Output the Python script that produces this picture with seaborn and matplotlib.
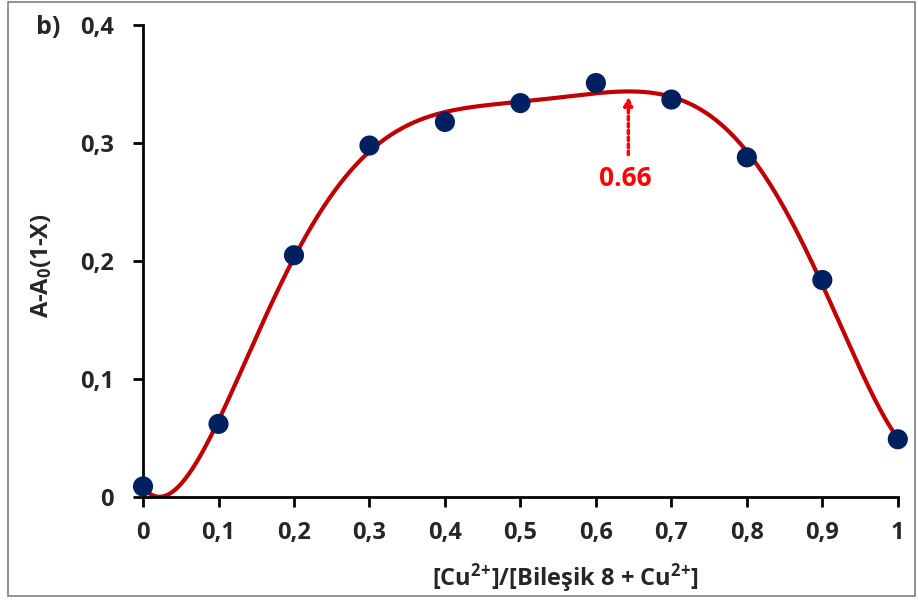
import numpy as np
import pandas as pd
import matplotlib
matplotlib.use("Agg")
import matplotlib.pyplot as plt
import seaborn as sns
from matplotlib.patches import Rectangle

# Data
x_vals = [0.0, 0.1, 0.2, 0.3, 0.4, 0.5, 0.6, 0.7, 0.8, 0.9, 1.0]
y_vals = [0.009, 0.062, 0.205, 0.298, 0.318, 0.334, 0.351, 0.337, 0.288, 0.184, 0.049]
x_ticks = [0, 0.1, 0.2, 0.3, 0.4, 0.5, 0.6, 0.7, 0.8, 0.9, 1.0]
x_tick_labels = ["0", "0,1", "0,2", "0,3", "0,4", "0,5", "0,6", "0,7", "0,8", "0,9", "1"]
y_ticks = [0, 0.1, 0.2, 0.3, 0.4]
y_tick_labels = ["0", "0,1", "0,2", "0,3", "0,4"]
annot_x = 0.643
annot_text = "0.66"

sns.set_style("ticks")
plt.rcParams['font.family'] = ['Open Sans', 'DejaVu Sans']
plt.rcParams['font.weight'] = 'bold'
plt.rcParams['mathtext.fontset'] = 'custom'
plt.rcParams['mathtext.rm'] = 'Open Sans:bold'
plt.rcParams['mathtext.bf'] = 'Open Sans:bold'
plt.rcParams['mathtext.it'] = 'Open Sans:bold'
plt.rcParams['mathtext.default'] = 'bf'

fig = plt.figure(figsize=(9.18, 6.01), dpi=100)
ax = fig.add_axes([0.1558, 0.173, 0.8222, 0.785])

df = pd.DataFrame({"x": x_vals, "y": y_vals})

# polynomial trendline (order 6)
coef = np.polyfit(df["x"], df["y"], 6)
xs = np.linspace(0, 1, 400)
fit = pd.DataFrame({"x": xs, "y": np.polyval(coef, xs)})
sns.lineplot(data=fit, x="x", y="y", ax=ax, color="#c00000", linewidth=3, zorder=2)
sns.scatterplot(data=df, x="x", y="y", ax=ax, color="#002060", s=210,
                edgecolor="none", zorder=3, clip_on=False)

ax.set_xlim(0, 1)
ax.set_ylim(0, 0.4)
ax.set_xticks(x_ticks)
ax.set_xticklabels(x_tick_labels)
ax.set_yticks(y_ticks)
ax.set_yticklabels(y_tick_labels)
ax.tick_params(axis="both", direction="out", length=7, width=2, labelsize=17,
               color="black")
ax.tick_params(axis="x", pad=10)
ax.tick_params(axis="y", pad=14)
for lab in ax.get_xticklabels() + ax.get_yticklabels():
    lab.set_fontweight("bold")
for s in ["top", "right"]:
    ax.spines[s].set_visible(False)
for s in ["left", "bottom"]:
    ax.spines[s].set_linewidth(2)
    ax.spines[s].set_color("black")

ax.set_xlabel("[Cu$^{2}$$^{+}$]/[Bileşik 8 + Cu$^{2}$$^{+}$]", fontsize=17,
              fontweight="bold", va="center")
ax.set_ylabel("A-A$_{0}$(1-X)", fontsize=17, fontweight="bold", va="center")
ax.yaxis.set_label_coords(-0.134, 0.49)
ax.xaxis.set_label_coords(0.56, -0.172)

# annotation arrow
peak_y = np.polyval(coef, annot_x)
ax.annotate("", xy=(annot_x, peak_y - 0.002), xytext=(annot_x, 0.288),
            arrowprops=dict(arrowstyle="-|>", color="red", lw=2.5,
                        linestyle=(0, (1, 1)), mutation_scale=12))
ax.text(annot_x - 0.004, 0.270, annot_text, color="red", fontsize=19,
        fontweight="bold", ha="center", va="center")

fig.text(0.052, 0.955, "b)", fontsize=18, fontweight="bold", ha="center", va="center")

fig.patches.append(Rectangle((0.009, 0.008), 0.988, 0.988, transform=fig.transFigure,
                             fill=False, edgecolor="#7f7f7f", linewidth=1.2))

fig.savefig("out.png", dpi=100)
